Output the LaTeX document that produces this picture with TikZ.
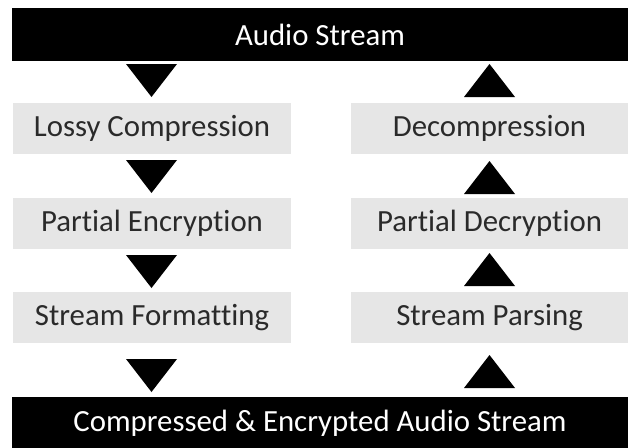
\documentclass[tikz,border=0pt]{standalone}
\usepackage{fontspec}
\setmainfont[Ligatures=NoCommon]{Carlito}
\definecolor{boxgray}{HTML}{E6E6E6}
\definecolor{txtgray}{HTML}{2A2A2A}
\tikzset{
  bar/.style={fill=black, text=white, minimum width=616pt, minimum height=53pt, inner sep=0pt, font=\fontsize{30.8}{36}\selectfont},
  graybox/.style={fill=boxgray, text=txtgray, minimum width=278pt, minimum height=51pt, inner sep=0pt, font=\fontsize{30.8}{36}\selectfont},
  tri/.style={fill=black}
}
\newcommand\downtri[2]{\fill[tri] (#1-25.5,#2) -- (#1+25.5,#2) -- (#1,#2+33) -- cycle;}
\newcommand\uptri[2]{\fill[tri] (#1-25.5,#2+33) -- (#1+25.5,#2+33) -- (#1,#2) -- cycle;}
\begin{document}
\begin{tikzpicture}[x=1pt,y=-1pt]
\useasboundingbox (0,0) rectangle (628,447);
\node[bar] (top) at (320,34.5) {Audio Stream};
\node[bar] (bot) at (320,423.5) {Compressed \& Encrypted Audio Stream};
\node[graybox] (lc) at (152,128) {Lossy Compression};
\node[graybox] (pe) at (152,223.5) {Partial Encryption};
\node[graybox] (sf) at (152,317.5) {Stream Formatting};
\node[graybox] (dc) at (489.5,128) {Decompression};
\node[graybox] (pd) at (489.5,223.5) {Partial Decryption};
\node[graybox] (sp) at (489.5,317.5) {Stream Parsing};
\downtri{151.5}{64}
\downtri{151.5}{160}
\downtri{151.5}{255}
\downtri{151.5}{359}
\uptri{489.5}{64}
\uptri{489.5}{161}
\uptri{489.5}{253}
\uptri{489.5}{355}
\end{tikzpicture}
\end{document}
